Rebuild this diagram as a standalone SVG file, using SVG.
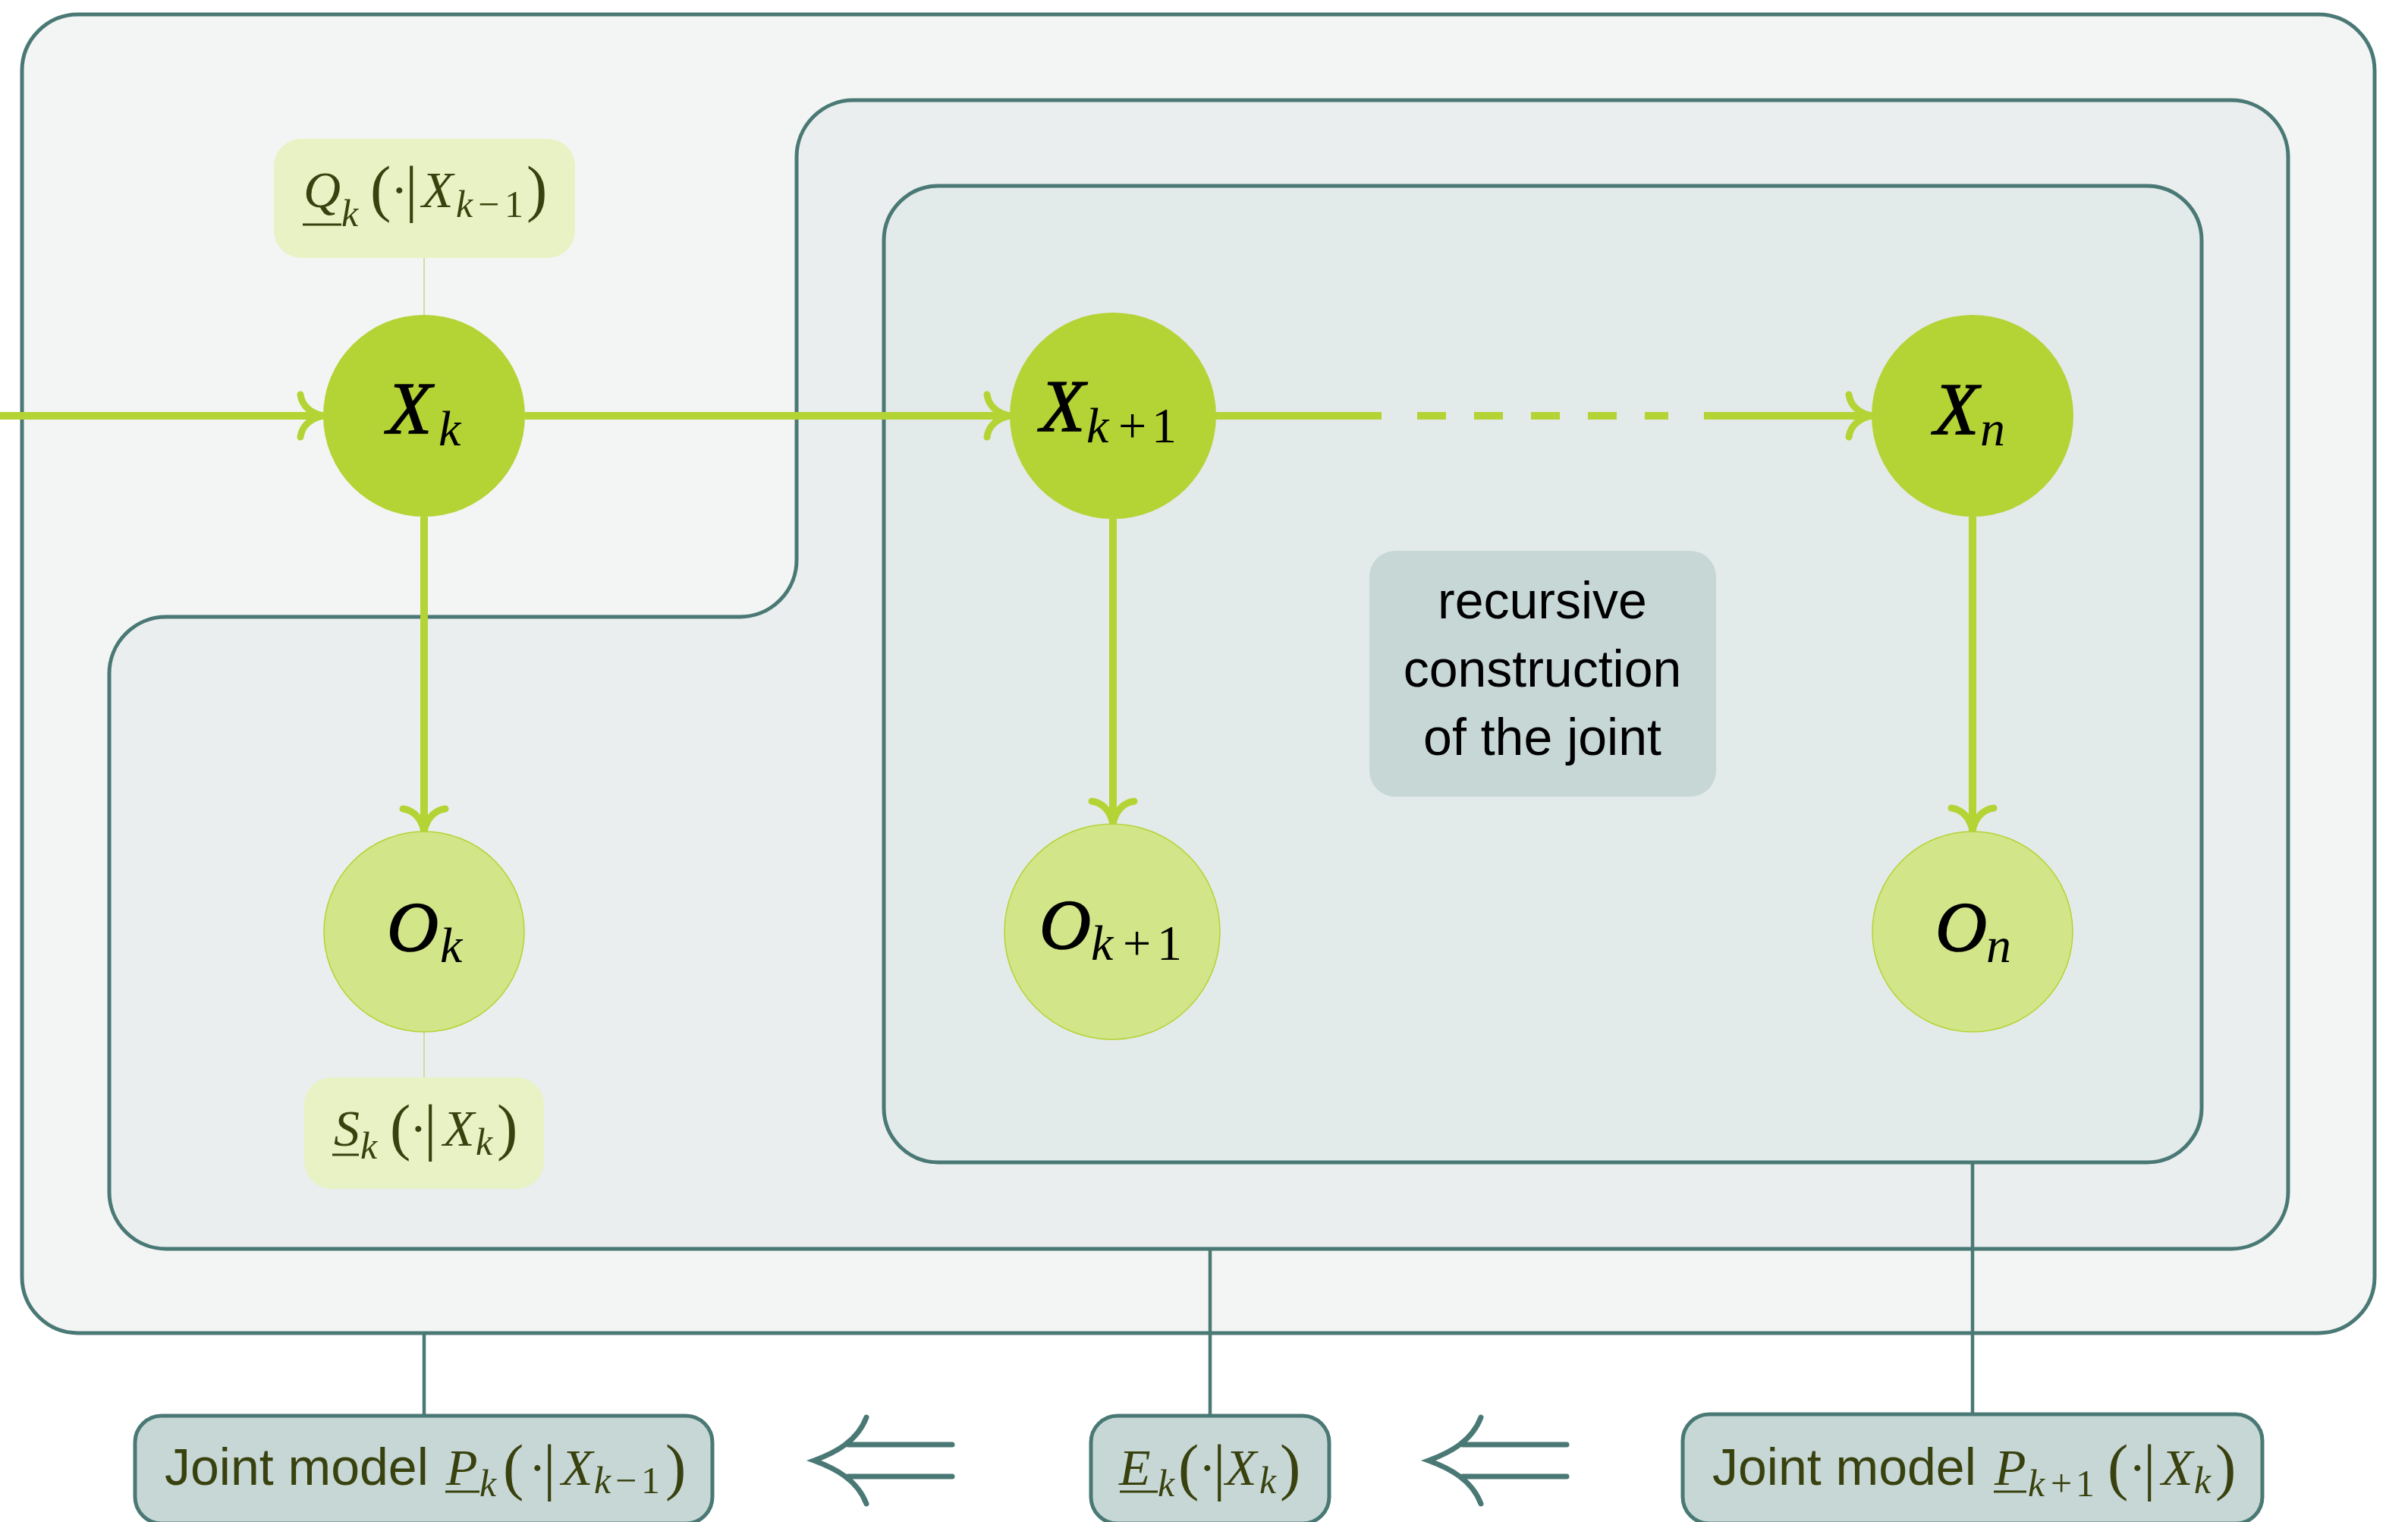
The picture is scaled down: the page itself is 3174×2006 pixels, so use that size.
<svg xmlns="http://www.w3.org/2000/svg" width="3174" height="2006" viewBox="0 0 3174 2006">
<style>
.box{stroke:#4a7975;stroke-width:5}
.cn{stroke:#4a7975;stroke-width:4.5;fill:none}
.ed{stroke:#b4d334;stroke-width:10;fill:none}
.arrw{stroke:#b4d334;stroke-width:9;fill:none;stroke-linecap:round}
.dbl{stroke:#4a7975;stroke-width:7;fill:none;stroke-linecap:round}
.lk{stroke:#d0dca6;stroke-width:2}
.sans{font-family:"Liberation Sans",Arial,sans-serif}
.m{font-family:"Liberation Serif","Times New Roman",serif;font-style:italic}
.up{font-style:normal}
.ol{fill:#39420f}
.bk{fill:#000}
.ul{stroke:#39420f;stroke-width:3}
.bg{font-size:97px;stroke:#000;stroke-width:1.6}
.ob{font-size:94px;stroke:#000;stroke-width:1.6}
.sb{font-size:66px}
.t{font-size:68px}
.s{font-size:50px}
.p{font-size:82px;font-style:normal}
</style>
<defs>
<marker id="ah" markerUnits="userSpaceOnUse" viewBox="-45 -45 60 90" markerWidth="60" markerHeight="90" refX="0" refY="0" orient="auto" overflow="visible">
<path class="arrw" d="M -30 -28 C -28 -12 -15 -3 0 0 C -15 3 -28 12 -30 28"/>
</marker>
</defs>
<rect width="3174" height="2006" fill="#ffffff"/>
<g id="frames">
<rect id="outer" class="box" x="29" y="19" width="3101" height="1738" rx="74" fill="#f3f5f4"/>
<path id="middle" class="box" fill="#eaeeee" d="M 1125 132 H 2941 A 75 75 0 0 1 3016 207 V 1571 A 75 75 0 0 1 2941 1646 H 219 A 75 75 0 0 1 144 1571 V 888 A 75 75 0 0 1 219 813 H 975 A 75 75 0 0 0 1050 738 V 207 A 75 75 0 0 1 1125 132 Z"/>
<rect id="inner" class="box" x="1165" y="245" width="1737" height="1287" rx="72" fill="#e3eaea"/>
</g>
<g id="connectors">
<line class="lk" x1="559" y1="340" x2="559" y2="416"/>
<line class="lk" x1="559" y1="1360" x2="559" y2="1421"/>
<line class="ed" x1="0" y1="548" x2="426" y2="548" marker-end="url(#ah)"/>
<line class="ed" x1="692" y1="548" x2="1331" y2="548" marker-end="url(#ah)"/>
<line class="ed" x1="1600" y1="548" x2="1821" y2="548"/>
<line class="ed" x1="1868" y1="548" x2="2199" y2="548" stroke-dasharray="38 37"/>
<line class="ed" x1="2246" y1="548" x2="2467" y2="548" marker-end="url(#ah)"/>
<line class="ed" x1="559" y1="681" x2="559" y2="1096" marker-end="url(#ah)"/>
<line class="ed" x1="1467" y1="684" x2="1467" y2="1086" marker-end="url(#ah)"/>
<line class="ed" x1="2600" y1="681" x2="2600" y2="1095" marker-end="url(#ah)"/>
<line class="cn" x1="559" y1="1757" x2="559" y2="1866"/>
<line class="cn" x1="1595" y1="1646" x2="1595" y2="1866"/>
<line class="cn" x1="2600" y1="1532" x2="2600" y2="1864"/>
<path class="dbl" d="M 1142 1868 C 1130 1900 1100 1915 1073 1925 C 1100 1935 1130 1950 1142 1982 M 1118 1904 H 1255 M 1118 1946 H 1255"/>
<path class="dbl" d="M 1952 1868 C 1940 1900 1910 1915 1883 1925 C 1910 1935 1940 1950 1952 1982 M 1928 1904 H 2065 M 1928 1946 H 2065"/>
</g>
<g id="node-Xk">
<circle cx="559" cy="548" r="133" fill="#b4d334"/>
<text class="m bk"><tspan class="bg" x="510" y="571">X</tspan><tspan class="sb" x="578" y="587">k</tspan></text>
</g>
<g id="node-Xk1">
<circle cx="1467" cy="548" r="136" fill="#b4d334"/>
<text class="m bk"><tspan class="bg" x="1371" y="568">X</tspan><tspan class="sb" x="1432" y="583">k</tspan><tspan class="sb up" x="1474" y="583">+</tspan><tspan class="sb up" x="1518" y="583">1</tspan></text>
</g>
<g id="node-Xn">
<circle cx="2600" cy="548" r="133" fill="#b4d334"/>
<text class="m bk"><tspan class="bg" x="2549" y="572">X</tspan><tspan class="sb" x="2610" y="587">n</tspan></text>
</g>
<g id="node-Ok">
<circle cx="559" cy="1228" r="132" fill="#d2e588" stroke="#b4d334" stroke-width="1.5"/>
<text class="m bk"><tspan class="ob" x="510" y="1253">O</tspan><tspan class="sb" x="580" y="1268">k</tspan></text>
</g>
<g id="node-Ok1">
<circle cx="1466" cy="1228" r="142" fill="#d2e588" stroke="#b4d334" stroke-width="1.5"/>
<text class="m bk"><tspan class="ob" x="1370" y="1250">O</tspan><tspan class="sb" x="1438" y="1265">k</tspan><tspan class="sb up" x="1480" y="1265">+</tspan><tspan class="sb up" x="1525" y="1265">1</tspan></text>
</g>
<g id="node-On">
<circle cx="2600" cy="1228" r="132" fill="#d2e588" stroke="#b4d334" stroke-width="1.5"/>
<text class="m bk"><tspan class="ob" x="2551" y="1253">O</tspan><tspan class="sb" x="2618" y="1268">n</tspan></text>
</g>
<g id="label-Q">
<rect x="361" y="183" width="397" height="157" rx="36" fill="#e8f2c4"/>
<line class="ul" x1="399" y1="296" x2="450" y2="296"/>
<text class="m ol"><tspan class="t" x="400" y="273">Q</tspan><tspan class="s" x="450" y="298">k</tspan><tspan class="p" x="488" y="276">(</tspan><tspan class="t up" x="515" y="273">·</tspan><tspan class="p" x="534" y="276">|</tspan><tspan class="t" x="556" y="273">X</tspan><tspan class="s" x="601" y="286">k</tspan><tspan class="s up" x="630" y="286">−</tspan><tspan class="s up" x="665" y="286">1</tspan><tspan class="p" x="694" y="276">)</tspan></text>
</g>
<g id="label-S">
<rect x="401" y="1420" width="316" height="147" rx="36" fill="#e8f2c4"/>
<line class="ul" x1="438" y1="1522" x2="473" y2="1522"/>
<text class="m ol"><tspan class="t" x="440" y="1510">S</tspan><tspan class="s" x="475" y="1527">k</tspan><tspan class="p" x="514" y="1513">(</tspan><tspan class="t up" x="540" y="1510">·</tspan><tspan class="p" x="559" y="1513">|</tspan><tspan class="t" x="584" y="1510">X</tspan><tspan class="s" x="627" y="1522">k</tspan><tspan class="p" x="655" y="1513">)</tspan></text>
</g>
<g id="label-recursive">
<rect x="1805" y="726" width="457" height="324" rx="34" fill="#c7d7d6"/>
<text class="sans bk t" text-anchor="middle"><tspan x="2033" y="815">recursive</tspan><tspan x="2033" y="905">construction</tspan><tspan x="2033" y="995">of the joint</tspan></text>
</g>
<g id="box-Pk">
<rect class="box" x="178" y="1866" width="761" height="142" rx="35" fill="#c7d7d6"/>
<text class="sans ol t" x="217" y="1957">Joint model</text>
<line class="ul" x1="587" y1="1966" x2="632" y2="1966"/>
<text class="m ol"><tspan class="t" x="588" y="1957">P</tspan><tspan class="s" x="632" y="1972">k</tspan><tspan class="p" x="663" y="1961">(</tspan><tspan class="t up" x="697" y="1957">·</tspan><tspan class="p" x="716" y="1961">|</tspan><tspan class="t" x="740" y="1957">X</tspan><tspan class="s" x="783" y="1968">k</tspan><tspan class="s up" x="811" y="1968">−</tspan><tspan class="s up" x="845" y="1968">1</tspan><tspan class="p" x="877" y="1961">)</tspan></text>
</g>
<g id="box-Ek">
<rect class="box" x="1438" y="1866" width="314" height="142" rx="35" fill="#c7d7d6"/>
<line class="ul" x1="1476" y1="1966" x2="1526" y2="1966"/>
<text class="m ol"><tspan class="t" x="1475" y="1957">E</tspan><tspan class="s" x="1526" y="1972">k</tspan><tspan class="p" x="1553" y="1961">(</tspan><tspan class="t up" x="1580" y="1957">·</tspan><tspan class="p" x="1599" y="1961">|</tspan><tspan class="t" x="1615" y="1957">X</tspan><tspan class="s" x="1660" y="1968">k</tspan><tspan class="p" x="1687" y="1961">)</tspan></text>
</g>
<g id="box-Pk1">
<rect class="box" x="2218" y="1864" width="764" height="144" rx="35" fill="#c7d7d6"/>
<text class="sans ol t" x="2257" y="1957">Joint model</text>
<line class="ul" x1="2628" y1="1966" x2="2671" y2="1966"/>
<text class="m ol"><tspan class="t" x="2629" y="1957">P</tspan><tspan class="s" x="2673" y="1972">k</tspan><tspan class="s up" x="2703" y="1972">+</tspan><tspan class="s up" x="2736" y="1972">1</tspan><tspan class="p" x="2778" y="1961">(</tspan><tspan class="t up" x="2806" y="1957">·</tspan><tspan class="p" x="2825" y="1961">|</tspan><tspan class="t" x="2849" y="1957">X</tspan><tspan class="s" x="2892" y="1968">k</tspan><tspan class="p" x="2920" y="1961">)</tspan></text>
</g>
</svg>
